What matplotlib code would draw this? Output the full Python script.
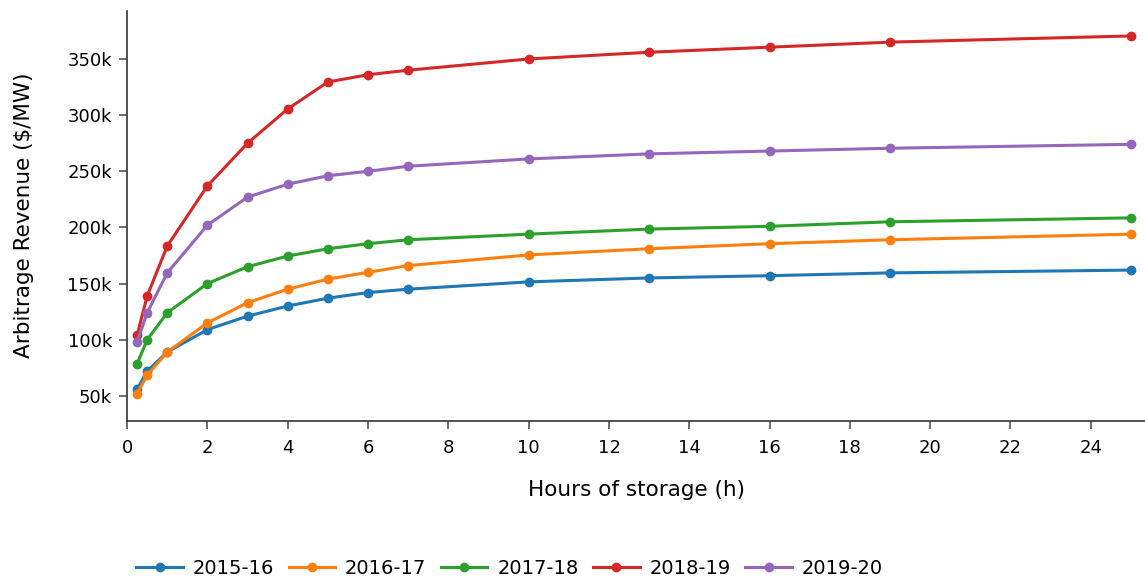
import matplotlib.pyplot as plt
from matplotlib.ticker import FuncFormatter

# horas de almacenamiento
horas = [0.25, 0.5, 1, 2, 3, 4, 5, 6, 7, 10, 13, 16, 19, 25]

# ingresos por arbitraje ($/MW) por año
anios = ["2015-16", "2016-17", "2017-18", "2018-19", "2019-20"]
rev_2015 = [56000, 72000, 89000, 109000, 121000, 130000, 137000, 142000, 145000, 151500, 155000, 157000, 159500, 162000]
rev_2016 = [52000, 68500, 89000, 115000, 133000, 145000, 154000, 160000, 166000, 175500, 181000, 185500, 189000, 194000]
rev_2017 = [78500, 100000, 124000, 150000, 165000, 174500, 181000, 185500, 189000, 194000, 198500, 201000, 205000, 208500]
rev_2018 = [104000, 139000, 183500, 237000, 275000, 305500, 329500, 336000, 340000, 350000, 356000, 360500, 365000, 370500]
rev_2019 = [98000, 124000, 159500, 202000, 227000, 238500, 246000, 250000, 254500, 261000, 265500, 268000, 270500, 274000]
series = [rev_2015, rev_2016, rev_2017, rev_2018, rev_2019]
colores = ["#1f77b4", "#ff7f0e", "#2ca02c", "#d62728", "#9467bd"]

fig = plt.figure(figsize=(11.45, 5.78), dpi=100)
ax = fig.add_axes([0.111, 0.272, 0.889, 0.7095])

for nombre, valores, c in zip(anios, series, colores):
    ax.plot(horas, valores, color=c, lw=2.2, marker="o", ms=6, label=nombre)

ax.set_xlim(0, 25.35)
ax.set_ylim(27800, 393000)
ax.set_xticks(range(0, 25, 2))
ax.set_yticks(range(50000, 350001, 50000))
ax.yaxis.set_major_formatter(FuncFormatter(lambda v, p: f"{int(v/1000)}k"))

for s in ["top", "right"]:
    ax.spines[s].set_visible(False)
for s in ["left", "bottom"]:
    ax.spines[s].set_color("#333333")
    ax.spines[s].set_linewidth(1.2)
ax.tick_params(labelsize=13, length=6, width=1.2, color="#555555")
ax.tick_params(axis="x", pad=7)
ax.tick_params(axis="y", pad=5)

ax.set_xlabel("Hours of storage (h)", fontsize=15.5, labelpad=17)
ax.set_ylabel("Arbitrage Revenue (\\$/MW)", fontsize=15.5, labelpad=24)

ax.legend(loc="center left", bbox_to_anchor=(0.009, -0.36), ncol=5, frameon=False,
          fontsize=14, handlelength=2.4, handletextpad=0.5, columnspacing=0.75,
          borderaxespad=0, borderpad=0)

fig.savefig("out.png", dpi=100)
